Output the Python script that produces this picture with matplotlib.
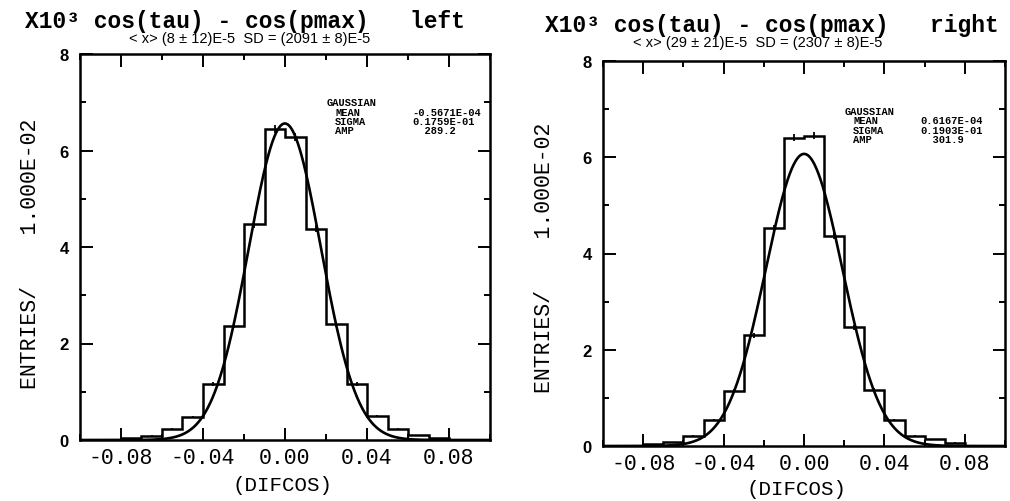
import numpy as np
import matplotlib
matplotlib.use("Agg")
import matplotlib.pyplot as plt
from matplotlib.ticker import MultipleLocator

# ---- data -------------------------------------------------------------
bin_edges = np.round(np.arange(-0.10, 0.1001, 0.01), 3)

# entries per bin (units of 10^3)
left_counts = [0.00, 0.01, 0.04, 0.09, 0.23, 0.48, 1.16, 2.37, 4.47, 6.45,
               6.28, 4.38, 2.40, 1.16, 0.50, 0.23, 0.10, 0.04, 0.01, 0.00]
right_counts = [0.00, 0.01, 0.04, 0.08, 0.21, 0.54, 1.15, 2.30, 4.52, 6.41,
                6.45, 4.37, 2.47, 1.17, 0.54, 0.21, 0.14, 0.07, 0.01, 0.00]

# gaussian fit results
fit_mean = [-0.5671e-04, 0.6167e-04]
fit_sigma = [0.1759e-01, 0.1903e-01]
fit_amp = [289.2, 301.9]
fit_peak = [6.56, 6.07]          # curve height, units of 10^3

titles = ["X10\u00b3 cos(tau) - cos(pmax)   left",
          "X10\u00b3 cos(tau) - cos(pmax)   right"]
subtitles = ["< x> (8 \u00b1 12)E-5  SD = (2091 \u00b1 8)E-5",
             "< x> (29 \u00b1 21)E-5  SD = (2307 \u00b1 8)E-5"]
mean_txt = ["-0.5671E-04", "0.6167E-04"]
sigma_txt = ["0.1759E-01", "0.1903E-01"]
amp_txt = ["289.2", "301.9"]

x_ticks = [-0.08, -0.04, 0.00, 0.04, 0.08]
x_ticklabels = ["-0.08", "-0.04", "0.00", "0.04", "0.08"]
y_ticks = [0, 2, 4, 6, 8]

# ---- figure -----------------------------------------------------------
W, H = 1010, 502
fig = plt.figure(figsize=(W / 100, H / 100), dpi=100)
fig.patch.set_facecolor("white")

mono = "Liberation Mono"
sans = "Liberation Sans"


def px_box(x0, y0, x1, y1):
    return [x0 / W, 1 - y1 / H, (x1 - x0) / W, (y1 - y0) / H]


boxes = [px_box(80, 55, 490, 441), px_box(603, 62, 1005, 447)]
title_pos = [(25, 28), (545, 32)]        # baseline
sub_pos = [(250, 38.5), (758, 43)]
ylab_pos = [(31, 254), (545, 258)]
xlab_pos = [(282, 486), (797, 490)]
stat_pos = [(327, 103, 412), (845, 112, 920)]

counts_all = [left_counts, right_counts]

for i in range(2):
    ax = fig.add_axes(boxes[i])
    counts = np.array(counts_all[i])
    ax.stairs(counts, bin_edges, color="black", lw=1.8, baseline=0)

    # statistical error bars at bin centres
    centers = 0.5 * (bin_edges[:-1] + bin_edges[1:])
    err = np.sqrt(counts * 1000.0) / 1000.0
    sel = counts > 0.02
    ax.errorbar(centers[sel], counts[sel], yerr=err[sel], fmt="none",
                ecolor="black", elinewidth=1.3, capsize=0)

    xs = np.linspace(-0.1, 0.1, 600)
    ys = fit_peak[i] * np.exp(-0.5 * ((xs - fit_mean[i]) / fit_sigma[i]) ** 2)
    ax.plot(xs, ys, color="black", lw=1.9)

    ax.set_xlim(-0.1, 0.1)
    ax.set_ylim(0, 8)
    ax.set_xticks(x_ticks)
    ax.set_xticklabels(x_ticklabels, fontfamily=mono, fontsize=15.5)
    ax.xaxis.set_minor_locator(MultipleLocator(0.02))
    ax.set_yticks(y_ticks)
    ax.set_yticklabels([str(v) for v in y_ticks], fontfamily=sans,
                       fontweight="bold", fontsize=12)
    ax.yaxis.set_minor_locator(MultipleLocator(1))
    ax.tick_params(which="both", direction="in", top=True, right=True,
                   width=1.4, colors="black")
    ax.tick_params(which="major", length=9, pad=5)
    ax.tick_params(which="minor", length=4)
    ax.tick_params(axis="y", pad=8)
    for s in ax.spines.values():
        s.set_linewidth(1.8)

    tx, ty = title_pos[i]
    fig.text(tx / W, 1 - ty / H, titles[i], fontfamily=mono,
             fontweight="bold", fontsize=16.5, ha="left", va="baseline")
    sx, sy = sub_pos[i]
    fig.text(sx / W, 1 - sy / H, subtitles[i], fontfamily=sans,
             fontsize=10.5, ha="center", va="center")
    lx, ly = ylab_pos[i]
    fig.text(lx / W, 1 - ly / H, "ENTRIES/    1.000E-02", fontfamily=mono,
             fontsize=15.5, rotation=90, ha="center", va="center")
    dx, dy = xlab_pos[i]
    fig.text(dx / W, 1 - dy / H, "(DIFCOS)", fontfamily=mono,
             fontsize=15, ha="center", va="center")

    gx, gy, vx = stat_pos[i]
    fig.text(gx / W, 1 - gy / H, "GAUSSIAN", fontfamily=mono,
             fontweight="bold", fontsize=7.5, ha="left", va="center")
    rows = [("MEAN", mean_txt[i]), ("SIGMA", sigma_txt[i]),
            ("AMP", "  " + amp_txt[i])]
    for k, (name, val) in enumerate(rows):
        yy = gy + 9.5 * (k + 1)
        fig.text((gx + 8) / W, 1 - yy / H, name, fontfamily=mono,
                 fontweight="bold", fontsize=7.5, ha="left", va="center")
        fig.text(vx / W, 1 - yy / H, val, fontfamily=mono,
                 fontweight="bold", fontsize=7.5, ha="left", va="center")

fig.savefig("out.png", dpi=100, facecolor="white")
